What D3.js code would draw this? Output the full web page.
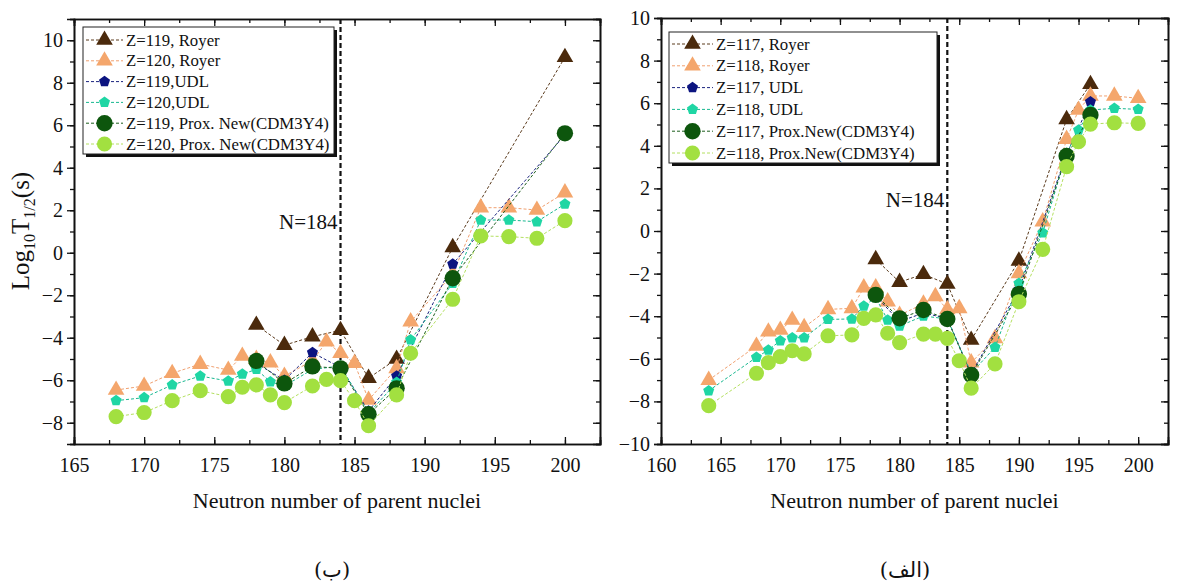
<!DOCTYPE html>
<html>
<head>
<meta charset="utf-8">
<script src="https://cdn.jsdelivr.net/npm/d3@7"></script>
<style>
  body { margin: 0; background: #fff; }
  text { font-family: "Liberation Serif", "Times New Roman", serif; fill: #111; }
</style>
</head>
<body>
<svg width="1179" height="586"></svg>
<script>
// ---- data ----
// left panel (ب): Z = 119 / 120
var nLeftOdd  = [178, 180, 182, 184, 186, 188, 192, 200];
var royer119  = [-3.4, -4.35, -3.95, -3.65, -5.9, -5.0, 0.25, 9.2];
var udl119    = [-5.2, -6.0, -4.7, -5.4, -7.45, -5.8, -0.53, 5.55];
var prox119   = [-5.09, -6.15, -5.35, -5.44, -7.6, -6.38, -1.2, 5.62];

var nLeftEven = [168, 170, 172, 174, 176, 177, 178, 179, 180, 182, 183, 184, 185, 186, 188, 189, 192, 194, 196, 198, 200];
var royer120  = [-6.46, -6.27, -5.67, -5.24, -5.52, -4.86, -5.01, -5.17, -5.8, -5.08, -4.19, -4.73, -5.2, -6.93, -5.44, -3.24, -1.0, 2.12, 2.12, 2.01, 2.83];
var udl120    = [-6.96, -6.82, -6.22, -5.8, -6.04, -5.71, -5.49, -6.07, -6.27, -5.49, null, -5.33, null, -7.56, -6.1, -4.1, -1.44, 1.54, 1.54, 1.46, 2.29];
var prox120   = [-7.71, -7.52, -6.96, -6.49, -6.77, -6.33, -6.22, -6.69, -7.05, -6.27, -5.96, -6.02, -6.96, -8.14, -6.69, -4.73, -2.19, 0.79, 0.76, 0.68, 1.51];

// right panel (الف): Z = 117 / 118
var nRightOdd  = [178, 180, 182, 184, 186, 190, 194, 196];
var royer117   = [-1.33, -2.4, -2.03, -2.49, -5.12, -1.4, 5.24, 6.89];
var udl117     = [-3.05, -4.25, -3.85, -4.1, -6.7, -2.75, 3.6, 6.07];
var prox117    = [-3.0, -4.1, -3.71, -4.13, -6.76, -2.96, 3.52, 5.45];

var nRightEven = [164, 168, 169, 170, 171, 172, 174, 176, 177, 178, 179, 180, 182, 183, 184, 185, 186, 188, 190, 192, 194, 195, 196, 198, 200];
var royer118   = [-7.0, -5.4, -4.73, -4.65, -4.18, -4.52, -3.68, -3.63, -2.66, -2.66, -3.32, -3.95, -3.42, -3.07, -3.68, -3.63, -6.18, -5.04, -1.99, 0.44, 4.31, 5.68, 6.34, 6.34, 6.23];
var udl118     = [-7.5, -5.93, -5.59, -5.15, -5.01, -5.01, -4.15, -4.13, -3.52, -3.13, -4.18, -4.46, -3.99, null, -4.13, null, -6.68, -5.46, -2.46, -0.08, 3.65, 4.74, 5.68, 5.76, 5.71];
var prox118    = [-8.2, -6.68, -6.18, -5.9, -5.62, -5.77, -4.92, -4.88, -4.1, -3.94, -4.8, -5.24, -4.84, -4.84, -5.04, -6.09, -7.38, -6.24, -3.32, -0.86, 3.02, 4.19, 5.02, 5.08, 5.05];

var legendLeft  = ["Z=119, Royer", "Z=120, Royer", "Z=119,UDL", "Z=120,UDL", "Z=119, Prox. New(CDM3Y4)", "Z=120, Prox. New(CDM3Y4)"];
var legendRight = ["Z=117, Royer", "Z=118, Royer", "Z=117, UDL", "Z=118, UDL", "Z=117, Prox.New(CDM3Y4)", "Z=118, Prox.New(CDM3Y4)"];

var xTicksLeft  = [165, 170, 175, 180, 185, 190, 195, 200];
var xTicksRight = [160, 165, 170, 175, 180, 185, 190, 195, 200];
var yTicksLeft  = [-8, -6, -4, -2, 0, 2, 4, 6, 8, 10];
var yTicksRight = [-10, -8, -6, -4, -2, 0, 2, 4, 6, 8, 10];

// ---- styles per series (legend order) ----
var symbolPentagon = {
  draw: function(ctx, size) {
    var r = Math.sqrt(size / 2.378);
    for (var i = 0; i < 5; i++) {
      var a = -Math.PI / 2 + i * 2 * Math.PI / 5;
      if (i === 0) ctx.moveTo(r * Math.cos(a), r * Math.sin(a));
      else ctx.lineTo(r * Math.cos(a), r * Math.sin(a));
    }
    ctx.closePath();
  }
};
var styles = [
  { color: "#4b2a0c", line: "#5a3a1c", shape: d3.symbolTriangle, size: 120 },
  { color: "#f4a66c", line: "#f0a070", shape: d3.symbolTriangle, size: 120 },
  { color: "#0c1480", line: "#1a237e", shape: symbolPentagon, size: 80 },
  { color: "#1fd6a4", line: "#18b890", shape: symbolPentagon, size: 80 },
  { color: "#0d560d", line: "#1c5e1c", shape: d3.symbolCircle, size: 210 },
  { color: "#a2e040", line: "#b4e060", shape: d3.symbolCircle, size: 180 }
];

var svg = d3.select("svg");

function drawPanel(cfg) {
  var x = d3.scaleLinear().domain(cfg.xDomain).range([cfg.left, cfg.right]);
  var y = d3.scaleLinear().domain(cfg.yDomain).range([cfg.bottom, cfg.top]);
  var g = svg.append("g");

  // minor ticks
  var xMinor = d3.range(cfg.xDomain[0], cfg.xDomain[1] + 0.01, 2.5);
  var yMinor = d3.range(Math.ceil(cfg.yDomain[0]), cfg.yDomain[1] + 0.01, 1);

  // bottom axis, ticks inward
  g.append("g").attr("transform", "translate(0," + cfg.bottom + ")")
    .call(d3.axisBottom(x).tickValues(xMinor).tickSize(-4).tickFormat(""));
  var bx = g.append("g").attr("transform", "translate(0," + cfg.bottom + ")")
    .call(d3.axisBottom(x).tickValues(cfg.xTicks).tickSize(-7).tickPadding(14).tickFormat(d3.format("d")));
  bx.selectAll("text").style("font-size", "20px").attr("fill", "#111");
  // top axis mirror ticks
  g.append("g").attr("transform", "translate(0," + cfg.top + ")")
    .call(d3.axisTop(x).tickValues(xMinor).tickSize(-4).tickFormat(""));
  g.append("g").attr("transform", "translate(0," + cfg.top + ")")
    .call(d3.axisTop(x).tickValues(cfg.xTicks).tickSize(-7).tickFormat(""));

  // left axis, ticks outward
  g.append("g").attr("transform", "translate(" + cfg.left + ",0)")
    .call(d3.axisLeft(y).tickValues(yMinor).tickSize(4).tickFormat(""));
  var ly = g.append("g").attr("transform", "translate(" + cfg.left + ",0)")
    .call(d3.axisLeft(y).tickValues(cfg.yTicks).tickSize(7).tickPadding(4).tickFormat(d3.format("d")));
  ly.selectAll("text").style("font-size", "20px").attr("fill", "#111");
  // right axis mirror ticks
  g.append("g").attr("transform", "translate(" + cfg.right + ",0)")
    .call(d3.axisRight(y).tickValues(yMinor).tickSize(-4).tickFormat(""));
  g.append("g").attr("transform", "translate(" + cfg.right + ",0)")
    .call(d3.axisRight(y).tickValues(cfg.yTicks).tickSize(-7).tickFormat(""));

  g.selectAll(".domain").attr("stroke", "#111").attr("stroke-width", 1.6);
  g.selectAll(".tick line").attr("stroke", "#111").attr("stroke-width", 1.3);

  // N = 184 marker line
  g.append("line")
    .attr("x1", x(184)).attr("x2", x(184))
    .attr("y1", cfg.top).attr("y2", cfg.bottom)
    .attr("stroke", "#111").attr("stroke-width", 2.2)
    .attr("stroke-dasharray", "5,3");
  g.append("text")
    .attr("x", x(184) - 3).attr("y", cfg.nLabelY)
    .attr("text-anchor", "end").style("font-size", "21px")
    .text("N=184");

  // series
  var line = d3.line().x(function(d) { return x(d.n); }).y(function(d) { return y(d.v); });
  cfg.series.forEach(function(s, i) {
    var pts = s.n.map(function(n, k) { return { n: n, v: s.v[k] }; })
      .filter(function(d) { return d.v !== null; });
    var st = styles[i];
    g.append("path").datum(pts)
      .attr("d", line)
      .attr("fill", "none")
      .attr("stroke", st.line)
      .attr("stroke-width", 1)
      .attr("stroke-dasharray", "3,2");
    g.selectAll(".m" + i).data(pts).enter().append("path")
      .attr("class", "m" + i)
      .attr("transform", function(d) { return "translate(" + x(d.n) + "," + y(d.v) + ")"; })
      .attr("d", d3.symbol().type(st.shape).size(st.size))
      .attr("fill", st.color);
  });

  // legend
  var lg = cfg.legend;
  g.append("rect").attr("x", lg.x + 3).attr("y", lg.y + 3)
    .attr("width", lg.w).attr("height", lg.h).attr("fill", "#111");
  g.append("rect").attr("x", lg.x).attr("y", lg.y)
    .attr("width", lg.w).attr("height", lg.h)
    .attr("fill", "#fff").attr("stroke", "#222").attr("stroke-width", 1);
  lg.labels.forEach(function(label, i) {
    var yy = lg.y + lg.first + i * lg.step;
    var st = styles[i];
    g.append("line").attr("x1", lg.x + 3).attr("x2", lg.x + lg.sample)
      .attr("y1", yy).attr("y2", yy)
      .attr("stroke", st.line).attr("stroke-width", 1).attr("stroke-dasharray", "3,2");
    g.append("path")
      .attr("transform", "translate(" + (lg.x + 3 + (lg.sample - 3) / 2) + "," + yy + ")")
      .attr("d", d3.symbol().type(st.shape).size(st.size))
      .attr("fill", st.color);
    g.append("text").attr("x", lg.x + lg.sample + 3).attr("y", yy + 5.5)
      .style("font-size", "16.8px").text(label);
  });

  // x title
  g.append("text")
    .attr("x", (cfg.left + cfg.right) / 2).attr("y", 508)
    .attr("text-anchor", "middle").style("font-size", "22px")
    .text("Neutron number of parent nuclei");

  // panel caption
  g.append("text")
    .attr("x", cfg.captionX).attr("y", 577)
    .attr("text-anchor", "middle").style("font-size", "21px")
    .style("font-family", "'DejaVu Serif', 'DejaVu Sans', serif")
    .text(cfg.caption);
}

drawPanel({
  left: 74, right: 600, top: 19, bottom: 444,
  xDomain: [165, 202.5], yDomain: [-9, 11],
  xTicks: xTicksLeft, yTicks: yTicksLeft,
  nLabelY: 229,
  series: [
    { n: nLeftOdd, v: royer119 }, { n: nLeftEven, v: royer120 },
    { n: nLeftOdd, v: udl119 },   { n: nLeftEven, v: udl120 },
    { n: nLeftOdd, v: prox119 },  { n: nLeftEven, v: prox120 }
  ],
  legend: { x: 83, y: 27, w: 251, h: 127, first: 13, step: 20.8, sample: 40, labels: legendLeft },
  caption: "(ب)", captionX: 332
});

drawPanel({
  left: 661, right: 1168, top: 18, bottom: 444,
  xDomain: [160, 202.5], yDomain: [-10, 10],
  xTicks: xTicksRight, yTicks: yTicksRight,
  nLabelY: 207,
  series: [
    { n: nRightOdd, v: royer117 }, { n: nRightEven, v: royer118 },
    { n: nRightOdd, v: udl117 },   { n: nRightEven, v: udl118 },
    { n: nRightOdd, v: prox117 },  { n: nRightEven, v: prox118 }
  ],
  legend: { x: 669, y: 32, w: 268, h: 131, first: 12, step: 21.8, sample: 44, labels: legendRight },
  caption: "(الف)", captionX: 905
});

// y title (left panel only)
var yt = svg.append("text")
  .attr("transform", "translate(29,231) rotate(-90)")
  .attr("text-anchor", "middle").style("font-size", "25px");
yt.append("tspan").text("Log");
yt.append("tspan").attr("dy", 6).style("font-size", "16px").text("10");
yt.append("tspan").attr("dy", -6).text("T");
yt.append("tspan").attr("dy", 6).style("font-size", "16px").text("1/2");
yt.append("tspan").attr("dy", -6).text("(s)");
</script>
</body>
</html>
